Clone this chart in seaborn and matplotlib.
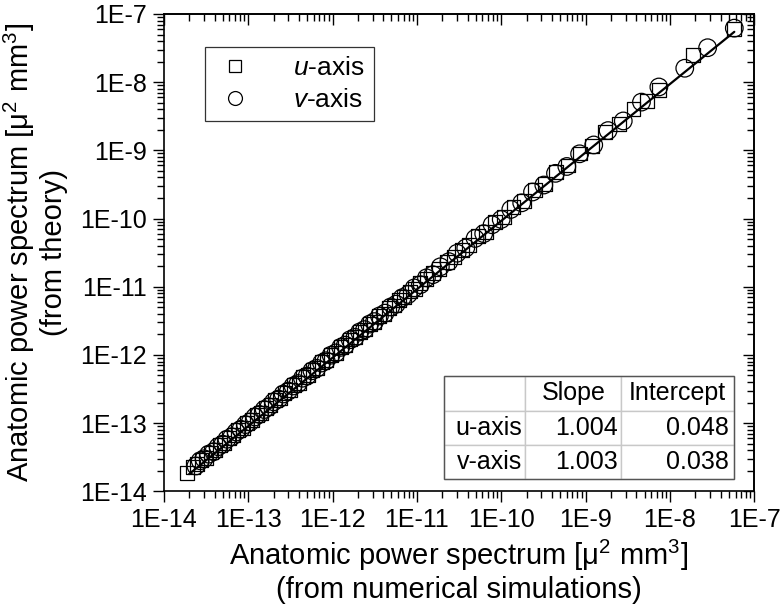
import matplotlib
matplotlib.use("Agg")
import matplotlib.pyplot as plt
import seaborn as sns
import pandas as pd
import numpy as np
from matplotlib.lines import Line2D
from matplotlib.patches import Rectangle
from matplotlib.ticker import LogLocator, NullFormatter, FixedLocator

sns.set_theme(style="white")
plt.rcParams["font.family"] = ["Liberation Sans", "DejaVu Sans"]
plt.rcParams["mathtext.fontset"] = "custom"
plt.rcParams["mathtext.rm"] = "Liberation Sans"
plt.rcParams["mathtext.it"] = "Liberation Sans:italic"
plt.rcParams["mathtext.default"] = "regular"
plt.rcParams["text.color"] = "black"
plt.rcParams["axes.labelcolor"] = "black"
plt.rcParams["xtick.color"] = "black"
plt.rcParams["ytick.color"] = "black"

# ---- data ----
u_sim = [1.9e-14, 2.2e-14, 2.5e-14, 2.8e-14, 3.2e-14, 3.6e-14, 4.1e-14, 4.6e-14, 5.2e-14, 5.9e-14,
         6.7e-14, 7.6e-14, 8.6e-14, 9.8e-14, 1.11e-13, 1.26e-13, 1.43e-13, 1.62e-13, 1.84e-13, 2.1e-13,
         2.4e-13, 2.7e-13, 3.1e-13, 3.5e-13, 4.0e-13, 4.5e-13, 5.1e-13, 5.8e-13, 6.6e-13, 7.5e-13,
         8.5e-13, 9.7e-13, 1.1e-12, 1.25e-12, 1.42e-12, 1.62e-12, 1.85e-12, 2.1e-12, 2.4e-12, 2.75e-12,
         3.1e-12, 3.6e-12, 4.1e-12, 4.7e-12, 5.4e-12, 6.2e-12, 7.1e-12, 8.2e-12, 9.4e-12, 1.1e-11,
         1.3e-11, 1.55e-11, 1.85e-11, 2.25e-11, 2.75e-11, 3.4e-11, 4.2e-11, 5.3e-11, 6.6e-11, 8.4e-11,
         1.08e-10, 1.4e-10, 1.85e-10, 2.5e-10, 3.3e-10, 4.5e-10, 6.2e-10, 8.5e-10, 1.2e-9, 1.7e-9,
         2.5e-9, 3.7e-9, 5.4e-9, 7.5e-9, 1.9e-8, 5.8e-8]
u_theory = [1.85e-14, 2.3e-14, 2.5e-14, 2.9e-14, 3.1e-14, 3.7e-14, 4.0e-14, 4.8e-14, 5.1e-14, 6.1e-14,
            6.6e-14, 7.8e-14, 8.5e-14, 1.0e-13, 1.10e-13, 1.30e-13, 1.41e-13, 1.66e-13, 1.82e-13, 2.15e-13,
            2.35e-13, 2.8e-13, 3.05e-13, 3.6e-13, 3.9e-13, 4.7e-13, 5.0e-13, 6.0e-13, 6.5e-13, 7.8e-13,
            8.4e-13, 1.0e-12, 1.08e-12, 1.3e-12, 1.40e-12, 1.68e-12, 1.82e-12, 2.18e-12, 2.36e-12, 2.85e-12,
            3.05e-12, 3.7e-12, 4.0e-12, 4.85e-12, 5.3e-12, 6.4e-12, 7.0e-12, 8.5e-12, 9.2e-12, 1.13e-11,
            1.28e-11, 1.6e-11, 1.82e-11, 2.32e-11, 2.7e-11, 3.5e-11, 4.1e-11, 5.5e-11, 6.4e-11, 8.8e-11,
            1.05e-10, 1.48e-10, 1.8e-10, 2.6e-10, 3.2e-10, 4.8e-10, 6.0e-10, 9.0e-10, 1.15e-9, 1.85e-9,
            2.45e-9, 4.1e-9, 5.3e-9, 7.6e-9, 2.5e-8, 6.0e-8]

v_sim = [2.4e-14, 2.7e-14, 3.0e-14, 3.4e-14, 3.9e-14, 4.4e-14, 5.0e-14, 5.6e-14, 6.4e-14, 7.2e-14,
         8.2e-14, 9.3e-14, 1.06e-13, 1.2e-13, 1.36e-13, 1.55e-13, 1.76e-13, 2.0e-13, 2.3e-13, 2.6e-13,
         3.0e-13, 3.4e-13, 3.9e-13, 4.4e-13, 5.0e-13, 5.7e-13, 6.5e-13, 7.4e-13, 8.4e-13, 9.6e-13,
         1.1e-12, 1.25e-12, 1.42e-12, 1.62e-12, 1.85e-12, 2.1e-12, 2.4e-12, 2.75e-12, 3.15e-12, 3.6e-12,
         4.2e-12, 4.9e-12, 5.7e-12, 6.7e-12, 7.9e-12, 9.3e-12, 1.1e-11, 1.3e-11, 1.55e-11, 1.9e-11,
         2.4e-11, 3.0e-11, 3.8e-11, 4.9e-11, 6.2e-11, 7.8e-11, 1.0e-10, 1.3e-10, 1.75e-10, 2.35e-10,
         3.2e-10, 4.4e-10, 6.0e-10, 8.5e-10, 1.25e-9, 1.85e-9, 2.8e-9, 4.6e-9, 7.4e-9, 1.5e-8,
         2.8e-8, 5.8e-8]
v_theory = [2.35e-14, 2.8e-14, 3.0e-14, 3.5e-14, 3.8e-14, 4.5e-14, 4.9e-14, 5.8e-14, 6.3e-14, 7.4e-14,
            8.1e-14, 9.5e-14, 1.04e-13, 1.23e-13, 1.34e-13, 1.58e-13, 1.73e-13, 2.05e-13, 2.25e-13, 2.67e-13,
            2.95e-13, 3.5e-13, 3.8e-13, 4.55e-13, 4.9e-13, 5.85e-13, 6.35e-13, 7.6e-13, 8.2e-13, 9.9e-13,
            1.07e-12, 1.29e-12, 1.39e-12, 1.67e-12, 1.81e-12, 2.17e-12, 2.35e-12, 2.83e-12, 3.08e-12, 3.72e-12,
            4.1e-12, 5.05e-12, 5.55e-12, 6.9e-12, 7.7e-12, 9.6e-12, 1.07e-11, 1.35e-11, 1.5e-11, 1.96e-11,
            2.33e-11, 3.1e-11, 3.7e-11, 5.1e-11, 6.0e-11, 8.1e-11, 9.7e-11, 1.36e-10, 1.7e-10, 2.45e-10,
            3.1e-10, 4.6e-10, 5.8e-10, 8.9e-10, 1.2e-9, 1.95e-9, 2.7e-9, 5.1e-9, 8.5e-9, 1.6e-8,
            3.2e-8, 6.2e-8]

series_names = ["u-axis", "v-axis"]
table_rows = ["u-axis", "v-axis"]
table_cols = ["", "Slope", "Intercept"]
slopes = [1.004, 1.003]
intercepts = [0.048, 0.038]
tick_exponents = [-14, -13, -12, -11, -10, -9, -8, -7]
tick_labels = ["1E-14", "1E-13", "1E-12", "1E-11", "1E-10", "1E-9", "1E-8", "1E-7"]

df_u = pd.DataFrame({"sim": u_sim, "theory": u_theory, "series": series_names[0]})
df_v = pd.DataFrame({"sim": v_sim, "theory": v_theory, "series": series_names[1]})

fig = plt.figure(figsize=(7.8, 6.08), dpi=100)
ax = fig.add_axes([0.210, 0.192, 0.757, 0.785])
ax.set_xscale("log")
ax.set_yscale("log")

sns.scatterplot(data=df_u, x="sim", y="theory", marker="s", s=100, facecolor="none",
                edgecolor="black", linewidth=0.9, ax=ax, legend=False, zorder=3)
sns.scatterplot(data=df_v, x="sim", y="theory", marker="o", s=160, facecolor="none",
                edgecolor="black", linewidth=0.9, ax=ax, legend=False, zorder=3)

# fitted line (log-log, intercept ~ 0)
xl = np.array([min(u_sim) * 1.05, max(u_sim)])
ax.plot(xl, xl ** ((slopes[0] + slopes[1]) / 2), color="black", lw=1.6, zorder=4)

ax.set_xlim(1e-14, 1e-7)
ax.set_ylim(1e-14, 1e-7)
ticks = [10.0 ** e for e in tick_exponents]
ax.xaxis.set_major_locator(FixedLocator(ticks))
ax.yaxis.set_major_locator(FixedLocator(ticks))
ax.set_xticklabels(tick_labels)
ax.set_yticklabels(tick_labels)
ax.xaxis.set_minor_locator(LogLocator(base=10, subs=np.arange(2, 10), numticks=20))
ax.yaxis.set_minor_locator(LogLocator(base=10, subs=np.arange(2, 10), numticks=20))
ax.xaxis.set_minor_formatter(NullFormatter())
ax.yaxis.set_minor_formatter(NullFormatter())
ax.tick_params(which="both", direction="out", top=False, right=False, bottom=True, left=True,
               color="black", width=1.0)
ax.tick_params(which="major", length=8, labelsize=18, pad=4)
ax.tick_params(which="minor", length=5)

# mirrored axes (top/right) with inward ticks
for axis_kind in ("x", "y"):
    sec = ax.secondary_xaxis("top") if axis_kind == "x" else ax.secondary_yaxis("right")
    sax = sec.xaxis if axis_kind == "x" else sec.yaxis
    sax.set_major_locator(FixedLocator(ticks))
    sax.set_minor_locator(LogLocator(base=10, subs=np.arange(2, 10), numticks=20))
    sax.set_major_formatter(NullFormatter())
    sax.set_minor_formatter(NullFormatter())
    sec.tick_params(which="both", direction="in", color="black", width=1.0)
    sec.tick_params(which="major", length=8)
    sec.tick_params(which="minor", length=5)
    for sp in sec.spines.values():
        sp.set_color("black")
        sp.set_linewidth(1.2)

for sp in ax.spines.values():
    sp.set_color("black")
    sp.set_linewidth(1.2)

ax.set_xlabel("Anatomic power spectrum [μ$^2$ mm$^3$]\n(from numerical simulations)", fontsize=21,
              labelpad=4, linespacing=1.15)
ax.set_ylabel("Anatomic power spectrum [μ$^2$ mm$^3$]\n(from theory)", fontsize=21,
              labelpad=9, linespacing=1.15)

handles = [Line2D([], [], marker="s", ls="none", mfc="none", mec="black", ms=9, mew=0.9),
           Line2D([], [], marker="o", ls="none", mfc="none", mec="black", ms=10, mew=0.9)]
labels = ["$\\mathit{u}$-axis", "$\\mathit{v}$-axis"]
leg = ax.legend(handles, labels, loc="upper left", bbox_to_anchor=(0.069, 0.931), fontsize=19,
                frameon=True, fancybox=False, edgecolor="black", handletextpad=1.4,
                borderpad=0.35, labelspacing=0.3, borderaxespad=0, handlelength=1.6)
leg.get_frame().set_linewidth(0.9)

cell_text = [[table_rows[i], f"{slopes[i]:.3f}", f"{intercepts[i]:.3f}"] for i in range(2)]
tbl = ax.table(cellText=cell_text, colLabels=table_cols, bbox=[0.475, 0.025, 0.490, 0.216],
               colWidths=[81, 96, 112], zorder=5)
tbl.auto_set_font_size(False)
tbl.set_fontsize(18)
for (r, c), cell in tbl.get_celld().items():
    cell.set_edgecolor("#c8c8c8")
    cell.set_linewidth(1.0)
    cell.set_facecolor("white")
    cell.PAD = 0.04
    if r == 0 or c == 0:
        cell._loc = "left"
    else:
        cell._loc = "right"
    cell.get_text().set_color("black")
ax.add_patch(Rectangle((0.475, 0.025), 0.490, 0.216, transform=ax.transAxes, fill=False,
                       edgecolor="#555555", lw=1.0, zorder=6))

fig.savefig("out.png", dpi=100)
